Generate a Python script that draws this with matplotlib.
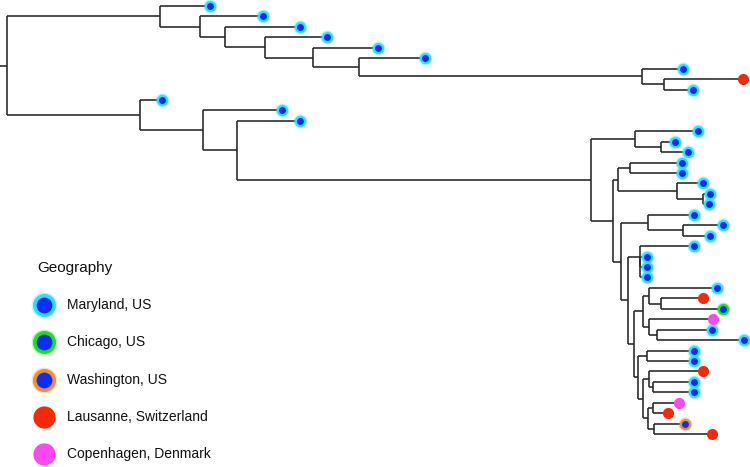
import matplotlib
matplotlib.use("Agg")
import matplotlib.pyplot as plt

# Geografia de cada grupo (codigo -> etiqueta, relleno, anillo)
geo_codes = ["MD", "CH", "WA", "LA", "CO"]
geo_labels = ["Maryland, US", "Chicago, US", "Washington, US",
              "Lausanne, Switzerland", "Copenhagen, Denmark"]
geo_fill = ["#0b2ef5", "#0b2ef5", "#0b2ef5", "#f8290a", "#fb48f0"]
geo_ring = ["#33dcff", "#22dd22", "#e8913a", None, None]

# Arbol (Newick, longitudes de rama)
top_clade = "(MD:50,(MD:63,(MD:75,(MD:62,(MD:65,(MD:66,(MD:41,(LA:79,MD:29):22):283):46):48):40):25):40)"
sub_m = "(MD:63,(MD:14,MD:27):26)"
sub_p = "((MD:52,MD:52):12,(MD:26,(MD:7,MD:6):26):59)"
sub_u = "(MD:46,(MD:40,MD:27):35)"
sub_x = "(MD:54,(MD:7,MD:7,MD:7):0)"
sub_z = "((MD:68,(LA:42,CH:62):12):6,(CO:64,(MD:55,MD:87):8):6)"
sub_aa = "((MD:47,MD:47):9,((LA:54,(MD:41,MD:41):4):6,((CO:26,LA:15):5,(WA:31,LA:58):6):5):5)"
sub_y = f"({sub_z}:9,{sub_aa}:4)"
sub_v = f"({sub_x}:12,{sub_y}:6)"
sub_q = f"({sub_u}:27,{sub_v}:7)"
sub_n = f"({sub_p}:5,{sub_q}:8)"
sub_l = f"({sub_m}:44,{sub_n}:22)"
bottom_clade = f"(MD:22,(MD:79,(MD:63,{sub_l}:354):34):63)"
tree_str = f"({top_clade}:153,{bottom_clade}:133);"
root_stem = 7


def parse(s, i=0):
    # devuelve (nodo, indice)
    node = {"children": [], "name": "", "len": 0.0}
    if s[i] == "(":
        i += 1
        while True:
            child, i = parse(s, i)
            node["children"].append(child)
            if s[i] == ",":
                i += 1
            else:
                i += 1  # ')'
                break
    name = ""
    while i < len(s) and s[i] not in ":,();":
        name += s[i]
        i += 1
    node["name"] = name
    if i < len(s) and s[i] == ":":
        i += 1
        num = ""
        while s[i] not in ",();":
            num += s[i]
            i += 1
        node["len"] = float(num)
    return node, i


root, _ = parse(tree_str)

tips = []


def layout(node, x):
    node["x"] = x + node["len"]
    if not node["children"]:
        node["y"] = len(tips)
        tips.append(node)
    else:
        for c in node["children"]:
            layout(c, node["x"])
        node["y"] = (node["children"][0]["y"] + node["children"][-1]["y"]) / 2


layout(root, root_stem)

fig = plt.figure(figsize=(7.5, 4.67), dpi=100)
ax = fig.add_axes([0, 0, 1, 1])
line_kw = dict(color="#262626", lw=1.15, solid_capstyle="butt", zorder=1)


def draw(node):
    for c in node["children"]:
        ax.plot([node["x"], c["x"]], [c["y"], c["y"]], **line_kw)
        draw(c)
    if node["children"]:
        ax.plot([node["x"], node["x"]],
                [node["children"][0]["y"], node["children"][-1]["y"]], **line_kw)


ax.plot([0, root["x"]], [root["y"], root["y"]], **line_kw)
draw(root)

# Puntas
for t in tips:
    k = geo_codes.index(t["name"])
    if geo_ring[k] is None:
        ax.plot(t["x"], t["y"], "o", ms=8.0, color=geo_fill[k], mec="none",
                zorder=3, clip_on=False)
    else:
        ax.plot(t["x"], t["y"], "o", ms=10.0, color=geo_ring[k], mec="none",
                alpha=0.35, zorder=2, clip_on=False)
        ax.plot(t["x"], t["y"], "o", ms=6.6, mfc=geo_fill[k], mec=geo_ring[k],
                mew=1.6, zorder=3, clip_on=False)

ax.set_xlim(0, 750)
ax.set_ylim((467 - 6) / 10.44, -6 / 10.44)
ax.axis("off")

# Leyenda
lg = fig.add_axes([0, 0, 1, 1])
lg.set_xlim(0, 750)
lg.set_ylim(467, 0)
lg.axis("off")
lg.text(37, 268, "Geography", fontsize=11, family="Liberation Sans",
        va="center", ha="left", color="#111111")
for k, lab in enumerate(geo_labels):
    yy = 305 + 37.3 * k
    if geo_ring[k] is None:
        lg.plot(44, yy, "o", ms=16, color=geo_fill[k], mec="none")
    else:
        lg.plot(44, yy, "o", ms=18.5, color=geo_ring[k], mec="none", alpha=0.3)
        lg.plot(44, yy, "o", ms=14, mfc=geo_fill[k], mec=geo_ring[k], mew=2.6)
    lg.text(67, yy, lab, fontsize=10, family="Liberation Sans",
            va="center", ha="left", color="#111111")

plt.savefig("out.png", dpi=100)
